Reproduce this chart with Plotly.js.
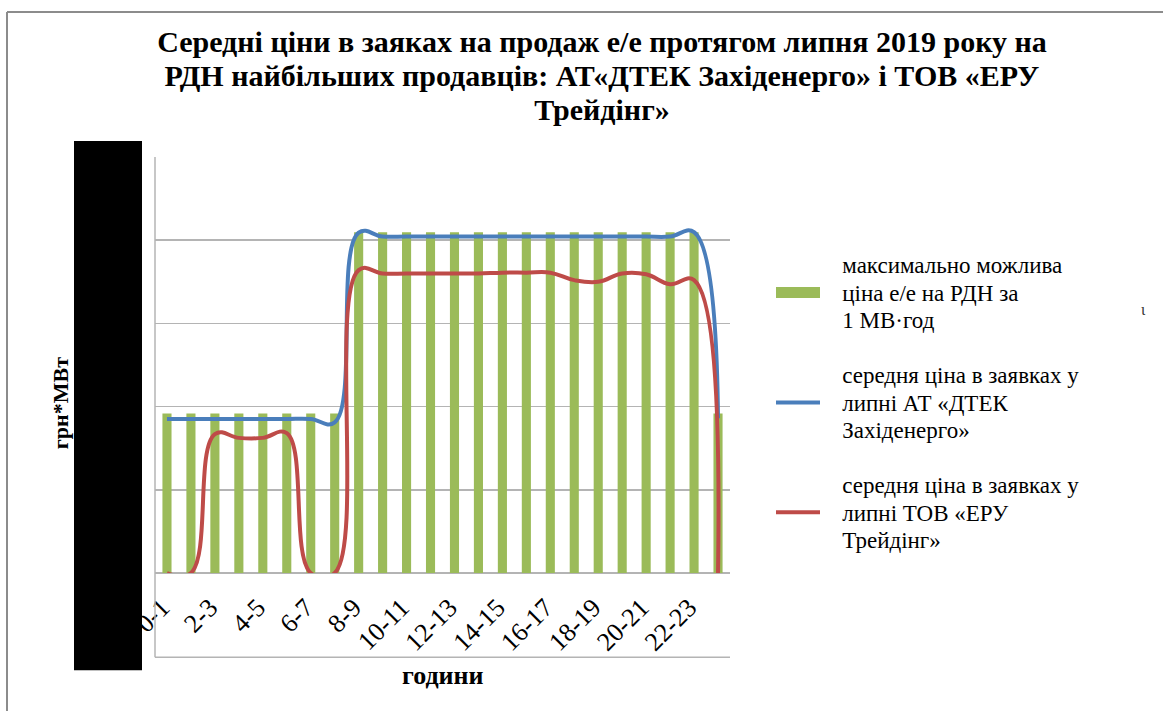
<!DOCTYPE html>
<html>
<head>
<meta charset="utf-8">
<script src="https://cdn.plot.ly/plotly-3.0.1.min.js"></script>
<style>
  html, body { margin: 0; padding: 0; background: #ffffff; }
  #chart { width: 1163px; height: 711px; }
</style>
</head>
<body>
<div id="chart"></div>
<script>
// ---- data ----
const hours = ['0-1','1-2','2-3','3-4','4-5','5-6','6-7','7-8','8-9','9-10','10-11','11-12',
               '12-13','13-14','14-15','15-16','16-17','17-18','18-19','19-20','20-21','21-22','22-23','23-24'];
const shownTicks = ['0-1','2-3','4-5','6-7','8-9','10-11','12-13','14-15','16-17','18-19','20-21','22-23'];

// максимально можлива ціна е/е на РДН за 1 МВт·год
const maxPrice = [959.12, 959.12, 959.12, 959.12, 959.12, 959.12, 959.12, 959.12,
                  2048.23, 2048.23, 2048.23, 2048.23, 2048.23, 2048.23, 2048.23, 2048.23,
                  2048.23, 2048.23, 2048.23, 2048.23, 2048.23, 2048.23, 2048.23, 959.12];
// середня ціна в заявках у липні АТ «ДТЕК Західенерго»
const dtekPrice = [926, 926, 926, 926, 926, 926, 926, 905,
                   2045, 2022, 2022, 2022, 2022, 2022, 2022, 2022,
                   2022, 2022, 2022, 2022, 2022, 2022, 2048, 930];
// середня ціна в заявках у липні ТОВ «ЕРУ Трейдінг»
const eruPrice = [0, 0, 835, 812, 812, 840, 0, 0,
                  1820, 1800, 1800, 1800, 1800, 1800, 1805, 1805,
                  1805, 1760, 1750, 1800, 1795, 1735, 1760, 0];

const yTicks = [0, 500, 1000, 1500, 2000, 2500];

const legendLines = [
  ['максимально можлива', 'ціна е/е на РДН за', '1 МВ·год'],
  ['середня ціна в заявках у', 'липні АТ «ДТЕК', 'Західенерго»'],
  ['середня ціна в заявках у', 'липні ТОВ «ЕРУ', 'Трейдінг»']
];
const titleLines = [
  'Середні ціни в заяках на продаж е/е протягом липня 2019 року на',
  'РДН найбільших продавців: АТ«ДТЕК Західенерго» і ТОВ «ЕРУ',
  'Трейдінг»'
];

const serif = 'Liberation Serif';
const pad = '\u00a0\u00a0\u00a0';
const legendName = lines => lines.map(s => '<span style="font-size:23px">' + pad + s + '</span>').join('<br>');
const titleText = titleLines.map(s => '<span style="font-size:30px"><b>' + s + '</b></span>').join('<br>');

// ---- geometry helpers (pixel -> paper) ----
const L = 155, R = 730, T = 157, B = 572.7, W = 1163, H = 711;
const px = x => (x - L) / (R - L);
const py = y => (B - y) / (B - T);

const traces = [
  {
    type: 'bar', x: hours, y: maxPrice, name: legendName(legendLines[0]),
    marker: { color: '#9bbb59' }, legendgroup: 'g1'
  },
  {
    type: 'scatter', mode: 'lines', x: hours, y: dtekPrice, name: legendName(legendLines[1]),
    line: { color: '#4a7ebb', width: 4, shape: 'spline', smoothing: 1.2 }, legendgroup: 'g2'
  },
  {
    type: 'scatter', mode: 'lines', x: hours, y: eruPrice, name: legendName(legendLines[2]),
    line: { color: '#be4b48', width: 4, shape: 'spline', smoothing: 1.2 }, legendgroup: 'g3'
  }
];

const gray = '#b4b4b4';
const layout = {
  width: W, height: H,
  paper_bgcolor: '#ffffff', plot_bgcolor: '#ffffff',
  margin: { l: L, r: W - R, t: T, b: H - B, pad: 0 },
  bargap: 0.62,
  showlegend: true,
  title: {
    text: titleText,
    font: { family: serif, size: 26, color: '#000000' },
    x: 602 / W, xanchor: 'center', xref: 'container',
    y: 1 - 52 / H, yanchor: 'top', yref: 'container'
  },
  xaxis: {
    type: 'category', categoryorder: 'array', categoryarray: hours,
    range: [-0.5, 23.5],
    tickmode: 'array', tickvals: shownTicks, ticktext: shownTicks,
    tickangle: -45, ticks: 'outside', ticklen: 8, tickcolor: 'rgba(0,0,0,0)', tickwidth: 1,
    ticklabelshift: -5,
    tickfont: { family: serif, size: 26, color: '#000000' },
    showgrid: false, showline: false, zeroline: false
  },
  yaxis: {
    range: [0, 2500], tickmode: 'array', tickvals: yTicks,
    showticklabels: false, ticks: '',
    showgrid: true, gridcolor: gray, gridwidth: 1.5,
    zeroline: true, zerolinecolor: gray, zerolinewidth: 1.5,
    showline: false
  },
  legend: {
    x: px(771), xanchor: 'left', xref: 'paper',
    y: py(245), yanchor: 'top', yref: 'paper',
    font: { family: serif, size: 21, color: '#000000' },
    bgcolor: 'rgba(0,0,0,0)', borderwidth: 0,
    tracegroupgap: 25, itemwidth: 44, valign: 'middle',
    traceorder: 'grouped'
  },
  shapes: [
    // outer frame (top & left)
    { type: 'line', xref: 'paper', yref: 'paper', x0: px(7), x1: px(1163), y0: py(12), y1: py(12),
      line: { color: '#8c8c8c', width: 2 } },
    { type: 'line', xref: 'paper', yref: 'paper', x0: px(7), x1: px(7), y0: py(12), y1: py(711),
      line: { color: '#8c8c8c', width: 2 } },
    // plot-area frame (left & bottom)
    { type: 'line', xref: 'paper', yref: 'paper', x0: 0, x1: 0, y0: py(657), y1: 1,
      line: { color: gray, width: 1.5 } },
    { type: 'line', xref: 'paper', yref: 'paper', x0: 0, x1: 1, y0: py(657), y1: py(657),
      line: { color: gray, width: 1.5 } },
    // black block over the value axis
    { type: 'rect', xref: 'paper', yref: 'paper', layer: 'above',
      x0: px(74), x1: px(142), y0: py(670), y1: py(141),
      fillcolor: '#000000', line: { width: 0 } }
  ],
  annotations: [
    { text: '<b>грн*МВт</b>', xref: 'paper', yref: 'paper', x: px(60), y: py(403),
      textangle: -90, showarrow: false, xanchor: 'center', yanchor: 'middle',
      font: { family: serif, size: 22, color: '#000000' } },
    { text: '<b>години</b>', xref: 'paper', yref: 'paper', x: px(443), y: py(675),
      showarrow: false, xanchor: 'center', yanchor: 'middle',
      font: { family: serif, size: 26, color: '#000000' } },
    { text: 'ι', xref: 'paper', yref: 'paper', x: px(1143), y: py(309),
      showarrow: false, xanchor: 'center', yanchor: 'middle',
      font: { family: serif, size: 16, color: '#333333' } }
  ]
};

Plotly.newPlot('chart', traces, layout, { staticPlot: true, displayModeBar: false }).then(gd => {
  // make the bar swatch in the legend a wide flat patch like the original
  const items = gd.querySelectorAll('.legend g.traces');
  if (items.length >= 2) {
    const line = items[1].querySelector('path.js-line');
    const bar = items[0].querySelector('.legendpoints path');
    if (line && bar) {
      const bb = line.getBBox();
      bar.removeAttribute('transform');
      bar.setAttribute('d', 'M' + bb.x + ',-5.5h' + bb.width + 'v11h' + (-bb.width) + 'Z');
    }
  }
});
</script>
</body>
</html>
